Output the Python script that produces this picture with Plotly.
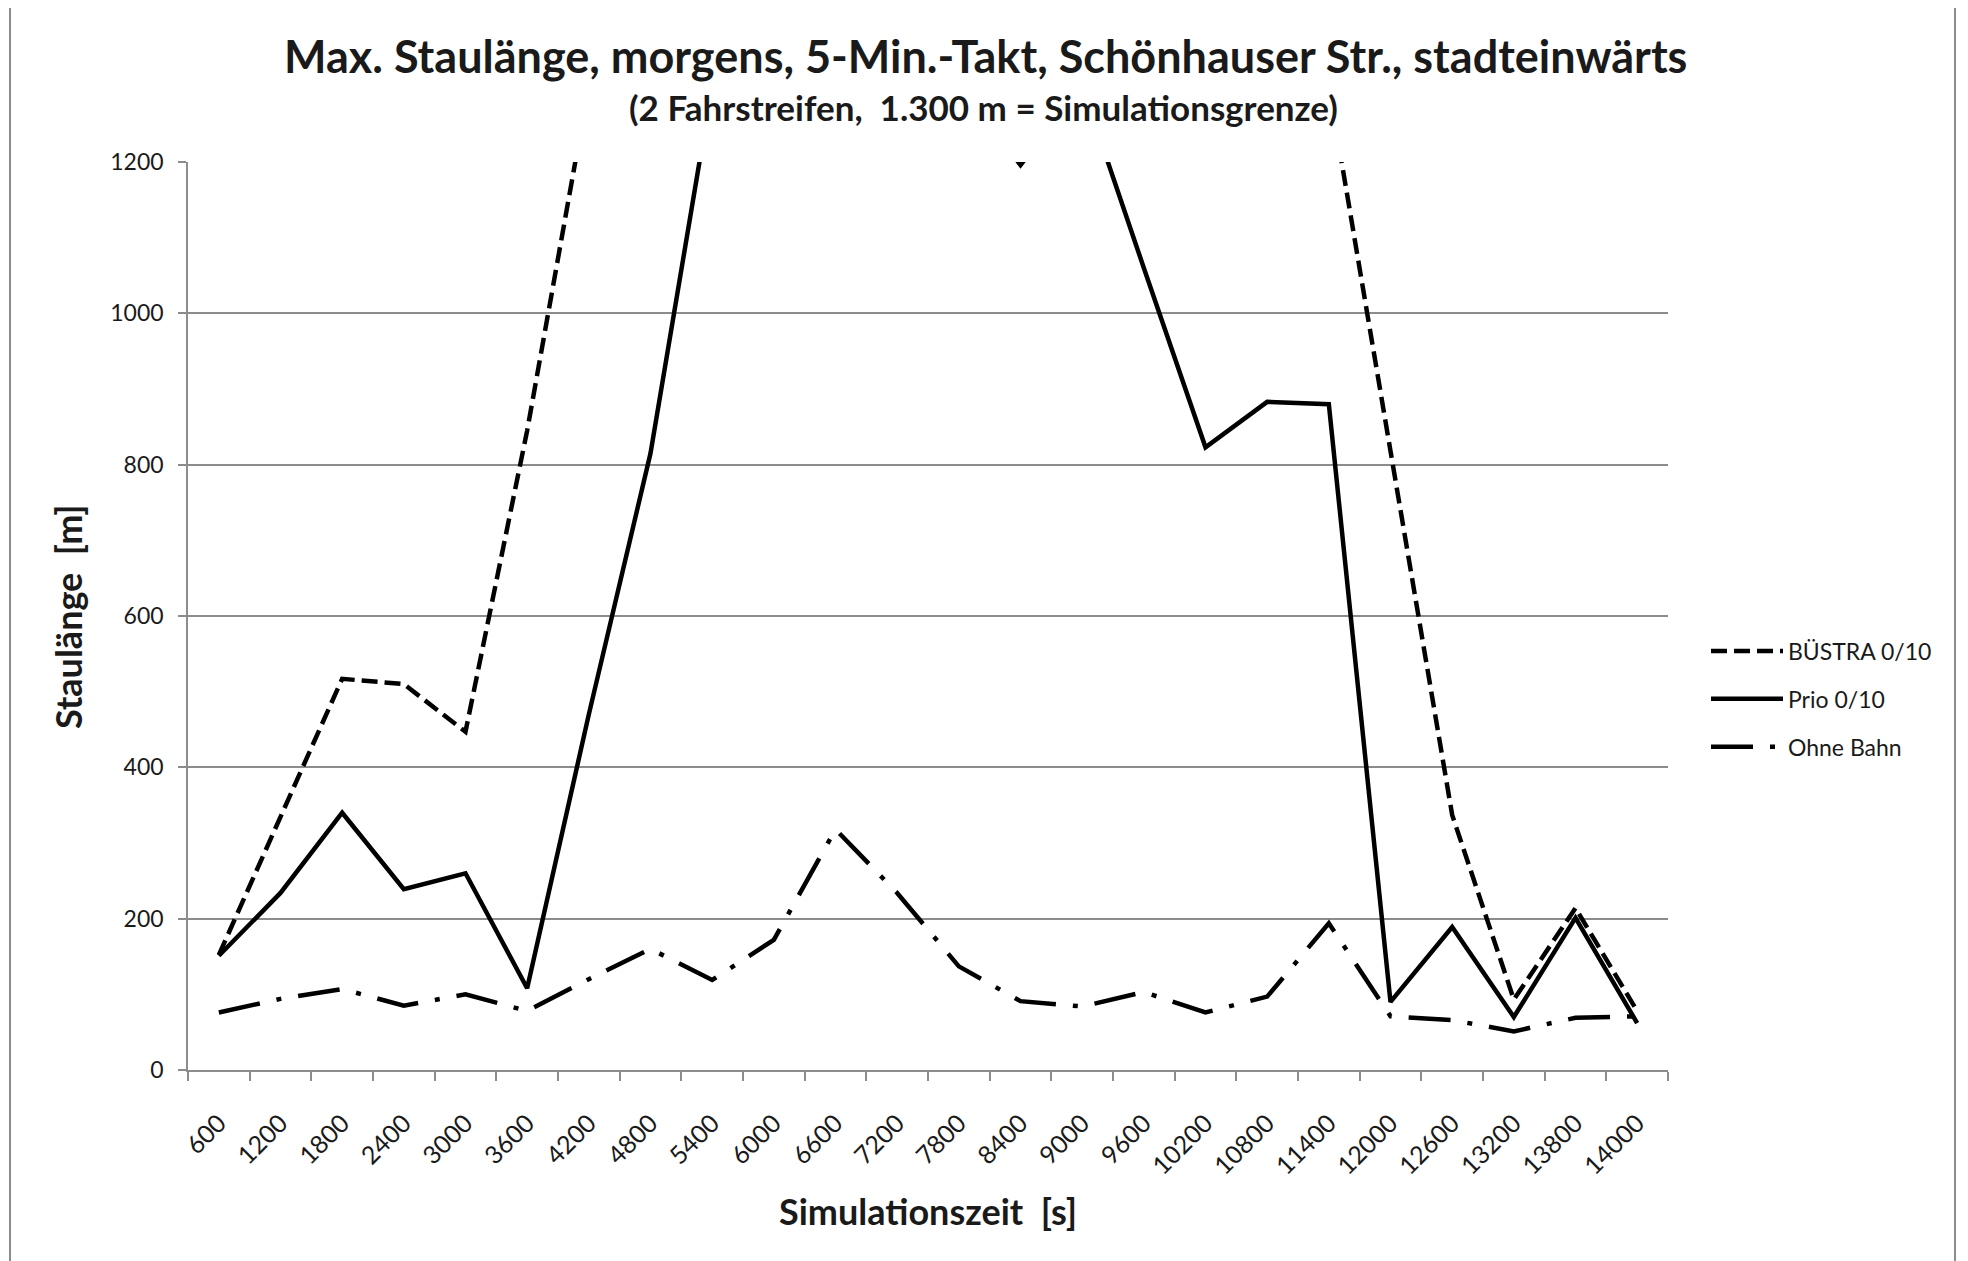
import plotly.graph_objects as go

# ---------------- data ----------------
categories = ["600", "1200", "1800", "2400", "3000", "3600", "4200", "4800",
              "5400", "6000", "6600", "7200", "7800", "8400", "9000", "9600",
              "10200", "10800", "11400", "12000", "12600", "13200", "13800", "14000"]

buestra = [152, 335, 517, 510, 447, 845, 1300, 1300, 1300, 1300, 1300, 1300,
           1300, 1196, 1300, 1300, 1300, 1300, 1300, 818, 337, 93, 214, 78]

prio = [151, 234, 340, 239, 260, 108, 470, 815, 1300, 1300, 1300, 1300,
        1300, 1300, 1300, 1060, 823, 883, 880, 90, 189, 70, 201, 62]

ohne_bahn = [76, 94, 107, 85, 100, 78, 120, 160, 119, 172, 318, 234,
             137, 91, 84, 103, 76, 97, 194, 71, 66, 51, 69, 71]

y_ticks = [0, 200, 400, 600, 800, 1000, 1200]

title_text = "Max. Staulänge, morgens, 5-Min.-Takt, Schönhauser Str., stadteinwärts"
subtitle_text = "(2 Fahrstreifen,  1.300 m = Simulationsgrenze)"
x_title = "Simulationszeit  [s]"
y_title = "Staulänge  [m]"

# ---------------- layout geometry (page pixels) ----------------
W, H = 1968, 1261
OFF = 8                      # default page body margin
PLOT_L, PLOT_R, PLOT_T, PLOT_B = 188, 1668, 162, 1070
L = PLOT_L - OFF
T = PLOT_T - OFF
R = W - (PLOT_R - OFF)
B = H - (PLOT_B - OFF)
PW, PH = PLOT_R - PLOT_L, PLOT_B - PLOT_T

def px_x(px):
    return (px - PLOT_L) / PW

def px_y(py):
    return (PLOT_B - py) / PH

FONT = "Lato, 'Open Sans', sans-serif"
TXT = "#1a1a1a"
GRID = "#8c8c8c"

fig = go.Figure()

fig.add_trace(go.Scatter(
    x=categories, y=buestra, name="BÜSTRA 0/10", mode="lines",
    line=dict(color="black", width=4.5, dash="16px,7px"),
    legendgroup="a"))
fig.add_trace(go.Scatter(
    x=categories, y=prio, name="Prio 0/10", mode="lines",
    line=dict(color="black", width=4.5),
    legendgroup="b"))
fig.add_trace(go.Scatter(
    x=categories, y=ohne_bahn, name="Ohne Bahn", mode="lines",
    line=dict(color="black", width=4.5, dash="42px,17px,5px,17px"),
    legendgroup="c"))

fig.update_layout(
    width=W, height=H,
    margin=dict(l=L, r=R, t=T, b=B, autoexpand=False),
    paper_bgcolor="white", plot_bgcolor="white",
    font=dict(family=FONT, size=23, color=TXT),
    showlegend=True,
    legend=dict(
        x=px_x(1706), y=px_y(699), xanchor="left", yanchor="middle",
        font=dict(family=FONT, size=23, color=TXT),
        traceorder="grouped", tracegroupgap=15,
        itemwidth=72, bgcolor="rgba(0,0,0,0)",
    ),
    xaxis=dict(
        type="category", categoryorder="array", categoryarray=categories,
        range=[-0.5, len(categories) - 0.5],
        showgrid=False, zeroline=False,
        showline=True, linecolor=GRID, linewidth=1.5,
        ticks="outside", tickson="boundaries", ticklen=9, tickwidth=1.5,
        tickcolor=GRID, tickangle=-45, ticklabelstandoff=27,
        tickfont=dict(family=FONT, size=25, color=TXT),
    ),
    yaxis=dict(
        range=[0, 1200], tickvals=y_ticks,
        showgrid=True, gridcolor=GRID, gridwidth=1.5,
        zeroline=False,
        showline=True, linecolor=GRID, linewidth=1.5,
        ticks="outside", ticklen=8, tickwidth=1.5, tickcolor=GRID,
        ticklabelstandoff=10,
        tickfont=dict(family=FONT, size=23, color=TXT),
    ),
)

# chart border (Excel chart area)
fig.add_shape(type="rect", xref="paper", yref="paper",
              x0=px_x(10), x1=px_x(1955), y0=px_y(1300), y1=px_y(4),
              line=dict(color=GRID, width=2), fillcolor="rgba(0,0,0,0)",
              layer="below")

fig.add_annotation(text="<b>" + title_text + "</b>", xref="paper", yref="paper",
                   x=px_x(985), y=px_y(56), xanchor="center", yanchor="middle",
                   showarrow=False, font=dict(family=FONT, size=45, color=TXT))
fig.add_annotation(text="<b>" + subtitle_text + "</b>", xref="paper", yref="paper",
                   x=px_x(983), y=px_y(107), xanchor="center", yanchor="middle",
                   showarrow=False, font=dict(family=FONT, size=35, color=TXT))
fig.add_annotation(text="<b>" + x_title + "</b>", xref="paper", yref="paper",
                   x=px_x(928), y=px_y(1211), xanchor="center", yanchor="middle",
                   showarrow=False, font=dict(family=FONT, size=36, color=TXT))
fig.add_annotation(text="<b>" + y_title + "</b>", xref="paper", yref="paper",
                   x=px_x(68), y=px_y(617), xanchor="center", yanchor="middle",
                   textangle=-90, showarrow=False,
                   font=dict(family=FONT, size=36, color=TXT))

fig.write_html("out.html")
